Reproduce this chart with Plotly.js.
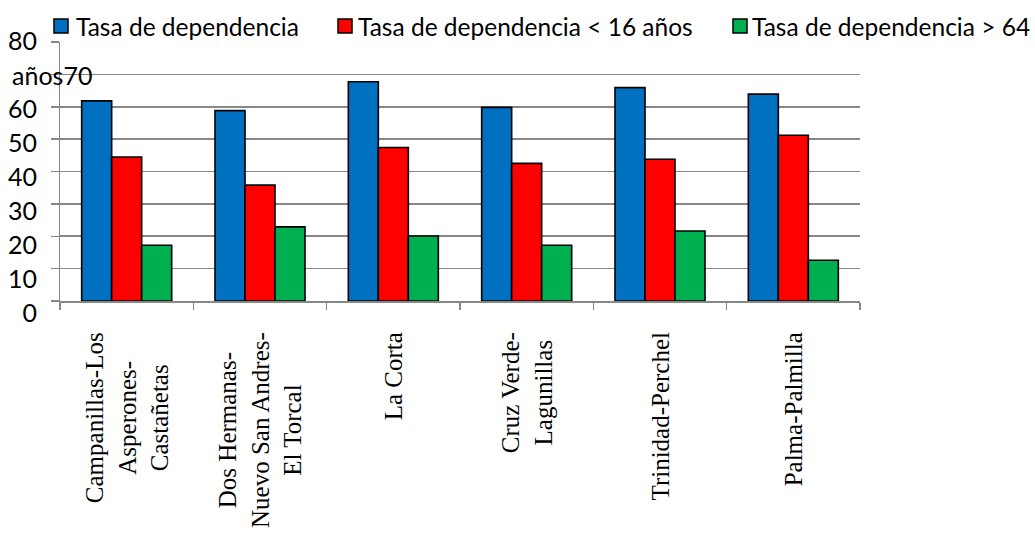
<!DOCTYPE html>
<html><head><meta charset="utf-8">
<script src="https://cdn.plot.ly/plotly-3.0.1.min.js"></script>
<style>html,body{margin:0;padding:0;background:#fff}#chart{width:1035px;height:539px}</style>
</head><body><div id="chart"></div>
<script>
// ---- data ----
const categories = ["Campanillas-Los Asperones-Castañetas", "Dos Hermanas-Nuevo San Andres-El Torcal", "La Corta", "Cruz Verde-Lagunillas", "Trinidad-Perchel", "Palma-Palmilla"];
const categoryLabels = ["Campanillas-Los<br>Asperones-<br>Castañetas", "Dos Hermanas-<br>Nuevo San Andres-<br>El Torcal", "La Corta", "Cruz Verde-<br>Lagunillas", "Trinidad-Perchel", "Palma-Palmilla"];
const seriesNames = ["Tasa de dependencia", "Tasa de dependencia < 16 años", "Tasa de dependencia > 64 años"];
const tasaTotal   = [61.8, 58.8, 67.7, 59.8, 65.9, 63.9];
const tasaMenor16 = [44.5, 35.8, 47.4, 42.5, 43.8, 51.2];
const tasaMayor64 = [17.2, 22.9, 20.1, 17.2, 21.6, 12.6];
const yTicks = [0, 10, 20, 30, 40, 50, 60, 70, 80];
const seriesColors = ["#0070C0", "#FF0000", "#00B050"];

// ---- geometry (pixels) ----
const W = 1035, H = 539;
const plotL = 60, plotR = 860, plotT = 38, plotB = 316;
const pw = plotR - plotL, ph = plotB - plotT;
const px = x => (x - plotL) / pw;
const py = y => (plotB - y) / ph;

const values = [tasaTotal, tasaMenor16, tasaMayor64];
const traces = values.map((v, i) => ({
  type: 'bar', x: categories, y: v, name: seriesNames[i],
  marker: {color: seriesColors[i], line: {color: '#000', width: 1.6}},
  hoverinfo: 'skip'
}));
// empty helper trace so the label-only y axis is drawn
traces.push({type: 'scatter', x: [], y: [], yaxis: 'y2', showlegend: false, hoverinfo: 'skip'});

const gridCol = '#878787';
const sansFont = 'Lato, "Open Sans", sans-serif';

const annotations = [];
const shapes = [];
categories.forEach((c, i) => {
  annotations.push({
    xref: 'x', yref: 'paper', x: c, y: py(330), xanchor: 'center', yanchor: 'top',
    text: categoryLabels[i], showarrow: false, textangle: -90, align: 'center',
    font: {family: '"Liberation Serif", "Times New Roman", serif', size: 25, color: '#000'}
  });
});
const legSq = [54, 338, 733];
const legTxt = [74, 356, 750];
const lastWord = seriesNames[2].split(' ').pop();
const legTexts = [seriesNames[0], seriesNames[1], seriesNames[2].slice(0, seriesNames[2].length - lastWord.length - 1)];
legSq.forEach((x, i) => {
  shapes.push({type: 'rect', xref: 'paper', yref: 'paper', x0: px(x), x1: px(x + 14), y0: py(33), y1: py(19),
    fillcolor: seriesColors[i], line: {color: '#000', width: 1.5}, layer: 'above'});
  annotations.push({xref: 'paper', yref: 'paper', x: px(legTxt[i]), y: py(26), xanchor: 'left', yanchor: 'middle',
    text: legTexts[i], showarrow: false, font: {family: sansFont, size: 24.5, color: '#000'}});
});
annotations.push({xref: 'paper', yref: 'paper', x: px(10), y: py(75), xanchor: 'left', yanchor: 'middle',
  text: lastWord + String(yTicks[7]), showarrow: false, font: {family: sansFont, size: 25, color: '#000'}});

const layout = {
  width: W, height: H,
  margin: {l: plotL, r: W - plotR, t: plotT, b: H - plotB, pad: 0},
  paper_bgcolor: '#fff', plot_bgcolor: 'rgba(0,0,0,0)',
  showlegend: false,
  barmode: 'group', bargap: 0.325, bargroupgap: 0,
  xaxis: {
    type: 'category', range: [-0.5, categories.length - 0.5], domain: [0, 1],
    showline: true, linecolor: gridCol, linewidth: 1.5,
    ticks: 'outside', tickson: 'boundaries', ticklen: 7, tickcolor: gridCol, tickwidth: 1.5,
    showticklabels: false, showgrid: false, zeroline: false, fixedrange: true
  },
  yaxis: {
    range: [0, 80], domain: [py(301), py(42)], tickvals: yTicks,
    showline: true, linecolor: gridCol, linewidth: 1.5,
    ticks: 'outside', ticklen: 8, tickcolor: gridCol, tickwidth: 1.5,
    showgrid: true, gridcolor: gridCol, gridwidth: 1.6,
    showticklabels: false, zeroline: false, fixedrange: true
  },
  yaxis2: {
    anchor: 'x', range: [0, 80], domain: [py(313), py(41)], tickvals: yTicks,
    ticktext: yTicks.map(v => v === 70 ? '' : String(v)),
    showline: false, showgrid: false, zeroline: false, ticks: '',
    ticklabelstandoff: 22,
    tickfont: {family: sansFont, size: 25, color: '#000'}, fixedrange: true
  },
  annotations: annotations,
  shapes: shapes
};

Plotly.newPlot('chart', traces, layout, {staticPlot: true, displayModeBar: false});
</script>
</body></html>
